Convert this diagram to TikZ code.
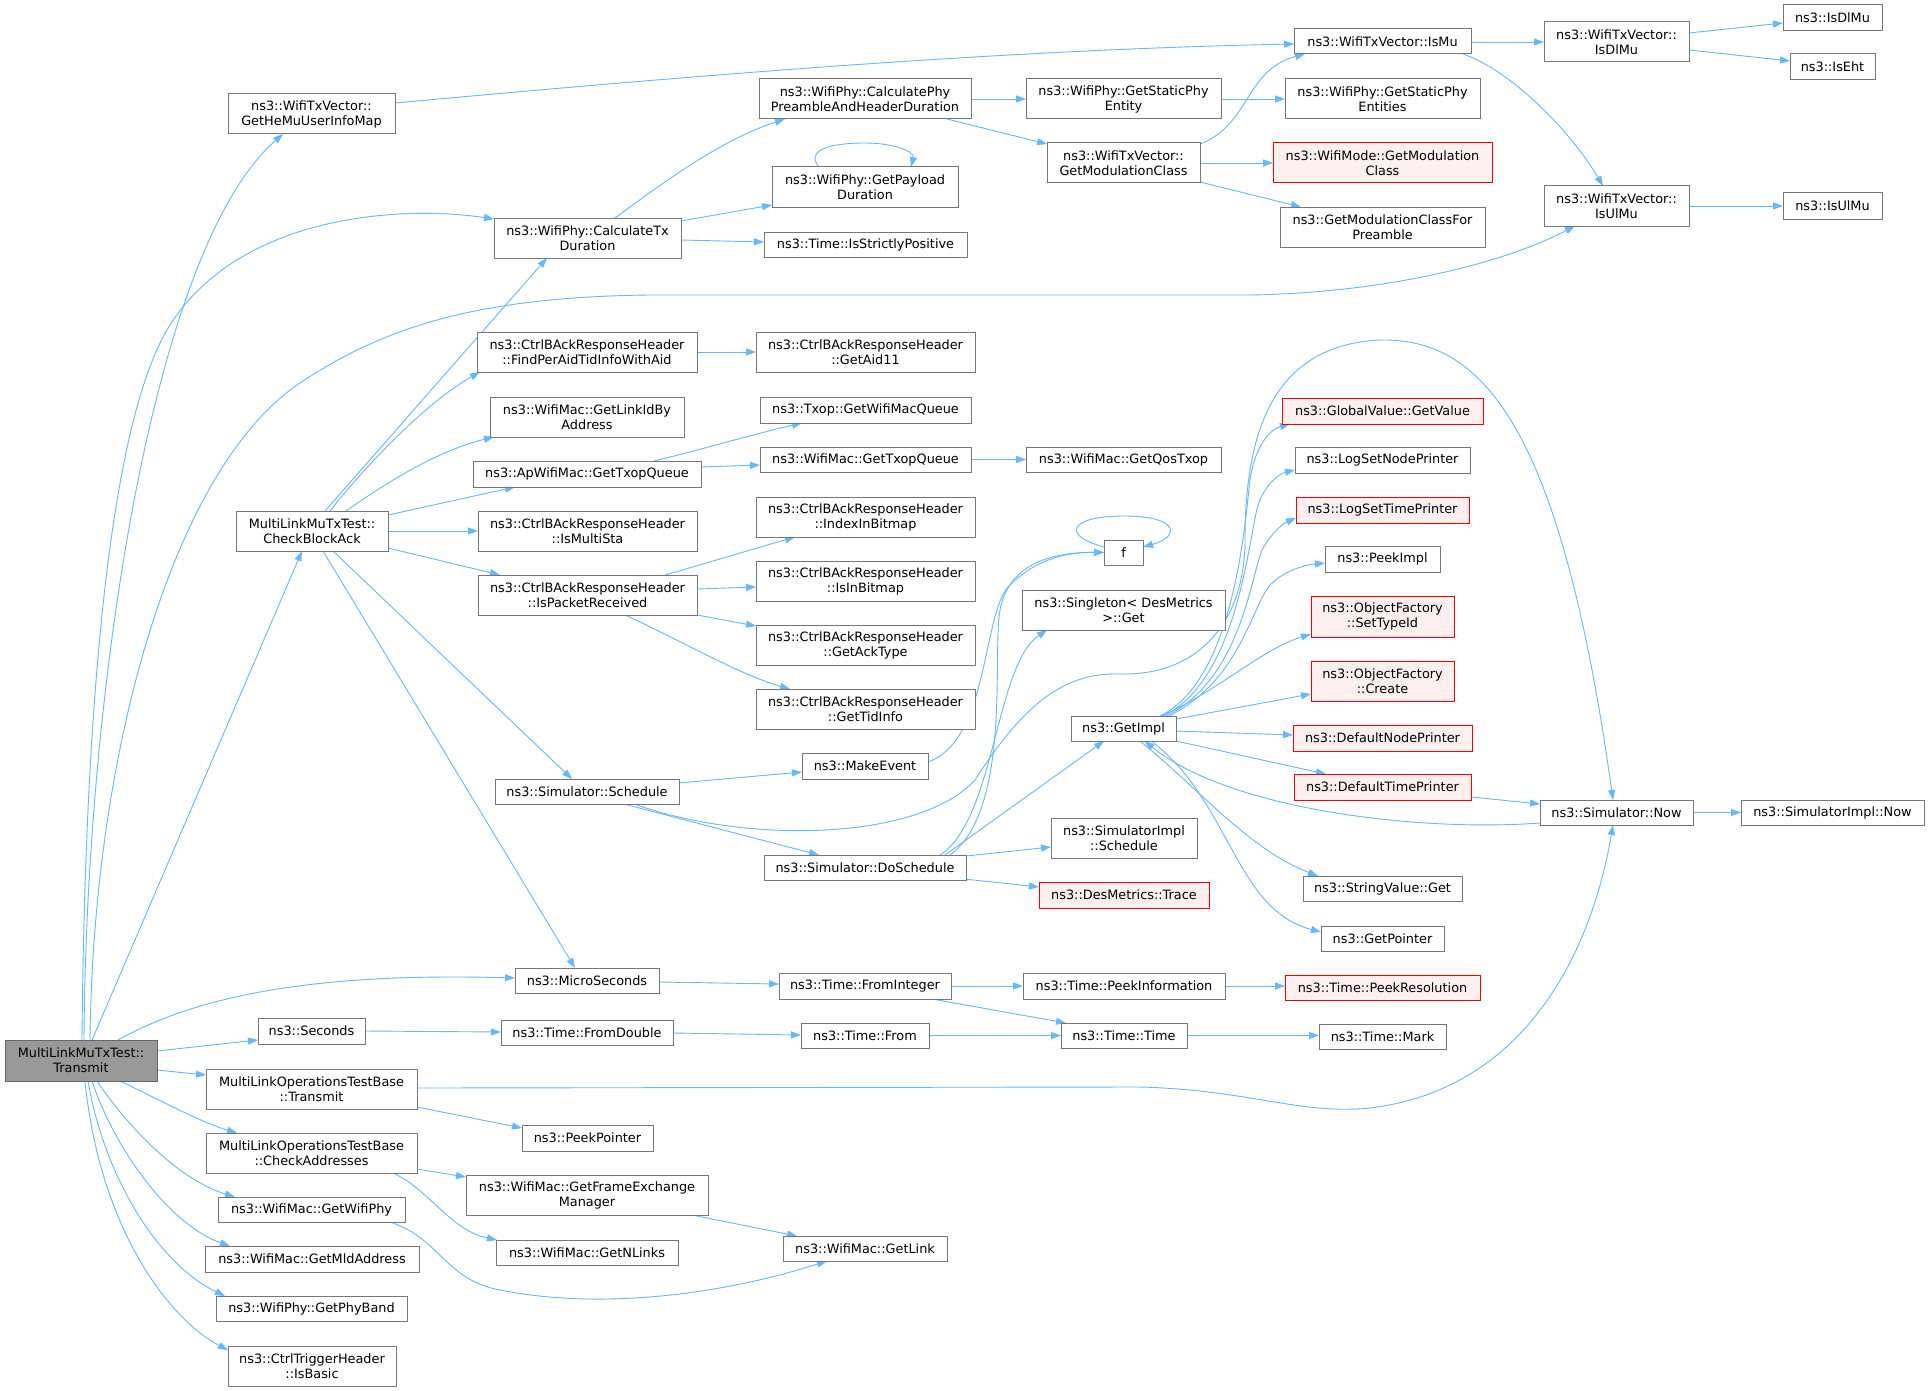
\documentclass[tikz,border=0pt]{standalone}
\usepackage{fontspec}
\setmainfont{DejaVu Sans}
\usetikzlibrary{arrows.meta}
\definecolor{edgeblue}{HTML}{63B8FF}
\definecolor{boxgray}{HTML}{777777}
\definecolor{boxred}{HTML}{FF0000}
\definecolor{redfill}{HTML}{FFF0F0}
\definecolor{rootfill}{HTML}{999999}
\definecolor{rootborder}{HTML}{666666}
\newcommand{\dxfont}{\fontsize{12.85pt}{15pt}\selectfont}
\pgfdeclarelayer{edges}
\pgfsetlayers{edges,main}
\tikzset{
  nb/.style={draw=boxgray, fill=white, line width=1pt, inner sep=0pt, align=center, font=\dxfont, text=black},
  rb/.style={nb, draw=boxred, fill=redfill},
  rootb/.style={nb, draw=rootborder, fill=rootfill},
  e/.style={draw=edgeblue, line width=0.9pt, -{Triangle[length=10pt,width=7pt]}},
}
\newcommand{\bx}[6][nb]{\node[#1, minimum width=#4pt, minimum height=#5pt] (#2) at (#3) {#6};}
\begin{document}
\begin{tikzpicture}[x=1pt,y=-1pt]
\useasboundingbox (0,0) rectangle (1929,1391);
% nodes
\bx[rootb]{root}{81,1060.5}{152}{41}{MultiLinkMuTxTest::\\Transmit}
\bx{hemu}{311.5,114}{167}{40}{ns3::WifiTxVector::\\GetHeMuUserInfoMap}
\bx{calctx}{587.5,238}{187}{40}{ns3::WifiPhy::CalculateTx\\Duration}
\bx{preamble}{865,99}{212}{40}{ns3::WifiPhy::CalculatePhy\\PreambleAndHeaderDuration}
\bx{payload}{865,187}{186}{40}{ns3::WifiPhy::GetPayload\\Duration}
\bx{strict}{865.5,244.5}{203}{25}{ns3::Time::IsStrictlyPositive}
\bx{ismu}{1382.5,41.5}{177}{25}{ns3::WifiTxVector::IsMu}
\bx{staticent}{1123.5,99}{195}{40}{ns3::WifiPhy::GetStaticPhy\\Entity}
\bx{staticents}{1382.5,99}{195}{40}{ns3::WifiPhy::GetStaticPhy\\Entities}
\bx{modclass}{1123.5,163}{153}{40}{ns3::WifiTxVector::\\GetModulationClass}
\bx[rb]{wmodclass}{1382.5,163}{219}{40}{ns3::WifiMode::GetModulation\\Class}
\bx{modpre}{1382.5,227}{205}{40}{ns3::GetModulationClassFor\\Preamble}
\bx{isdlmuv}{1616.5,42}{145}{40}{ns3::WifiTxVector::\\IsDlMu}
\bx{isdlmu}{1832.5,18}{99}{26}{ns3::IsDlMu}
\bx{iseht}{1832.5,67}{85}{26}{ns3::IsEht}
\bx{isulmuv}{1616.5,206}{145}{40}{ns3::WifiTxVector::\\IsUlMu}
\bx{isulmu}{1832.5,206}{99}{26}{ns3::IsUlMu}
\bx{findper}{587,352}{220}{40}{ns3::CtrlBAckResponseHeader\\::FindPerAidTidInfoWithAid}
\bx{aid11}{865.5,352}{219}{40}{ns3::CtrlBAckResponseHeader\\::GetAid11}
\bx{linkid}{587,417}{194}{40}{ns3::WifiMac::GetLinkIdBy\\Address}
\bx{txopq}{865.5,410}{211}{26}{ns3::Txop::GetWifiMacQueue}
\bx{wmtxopq}{865.5,459.5}{211}{25}{ns3::WifiMac::GetTxopQueue}
\bx{aptxopq}{587,474}{228}{26}{ns3::ApWifiMac::GetTxopQueue}
\bx{qostxop}{1123.5,459.5}{195}{25}{ns3::WifiMac::GetQosTxop}
\bx[rb]{globalv}{1382.5,411}{201}{26}{ns3::GlobalValue::GetValue}
\bx{lognode}{1382.5,460}{175}{26}{ns3::LogSetNodePrinter}
\bx{checkba}{312,531}{152}{40}{MultiLinkMuTxTest::\\CheckBlockAck}
\bx{multista}{587.5,531}{219}{40}{ns3::CtrlBAckResponseHeader\\::IsMultiSta}
\bx{pktrecv}{587.5,595}{219}{40}{ns3::CtrlBAckResponseHeader\\::IsPacketReceived}
\bx{indexbm}{865.5,517}{219}{40}{ns3::CtrlBAckResponseHeader\\::IndexInBitmap}
\bx{isinbm}{865.5,581}{219}{40}{ns3::CtrlBAckResponseHeader\\::IsInBitmap}
\bx{acktype}{865.5,645}{219}{40}{ns3::CtrlBAckResponseHeader\\::GetAckType}
\bx{tidinfo}{865.5,709}{219}{40}{ns3::CtrlBAckResponseHeader\\::GetTidInfo}
\bx{makeev}{865,766}{126}{26}{ns3::MakeEvent}
\bx{sched}{587,791.5}{184}{25}{ns3::Simulator::Schedule}
\bx{dosched}{865,867.5}{202}{25}{ns3::Simulator::DoSchedule}
\bx{f}{1123.5,552.5}{39}{25}{f}
\bx{singleton}{1123.5,610}{203}{40}{ns3::Singleton< DesMetrics\\>::Get}
\bx{getimpl}{1123.5,728.5}{105}{25}{ns3::GetImpl}
\bx{simimplsched}{1124,838}{146}{40}{ns3::SimulatorImpl\\::Schedule}
\bx[rb]{trace}{1124,895}{170}{26}{ns3::DesMetrics::Trace}
\bx[rb]{logtime}{1382.5,510}{173}{26}{ns3::LogSetTimePrinter}
\bx{peekimpl}{1382.5,559}{115}{26}{ns3::PeekImpl}
\bx[rb]{settype}{1382.5,616.5}{143}{41}{ns3::ObjectFactory\\::SetTypeId}
\bx[rb]{create}{1382.5,681}{143}{40}{ns3::ObjectFactory\\::Create}
\bx[rb]{defnode}{1382.5,738}{179}{26}{ns3::DefaultNodePrinter}
\bx[rb]{deftime}{1382.5,787}{177}{26}{ns3::DefaultTimePrinter}
\bx{strval}{1382.5,888.5}{159}{25}{ns3::StringValue::Get}
\bx{getptr}{1382.5,938.5}{123}{25}{ns3::GetPointer}
\bx{now}{1616.5,812.5}{153}{25}{ns3::Simulator::Now}
\bx{implnow}{1832.5,812.5}{183}{25}{ns3::SimulatorImpl::Now}
\bx{micro}{587,980.5}{144}{25}{ns3::MicroSeconds}
\bx{fromint}{865,986}{172}{26}{ns3::Time::FromInteger}
\bx{fromdbl}{587,1032.5}{172}{25}{ns3::Time::FromDouble}
\bx{from}{865,1035.5}{128}{25}{ns3::Time::From}
\bx{peekinfo}{1124,986}{202}{26}{ns3::Time::PeekInformation}
\bx[rb]{peekres}{1382.5,987.5}{195}{25}{ns3::Time::PeekResolution}
\bx{ttime}{1124,1035.5}{126}{25}{ns3::Time::Time}
\bx{mark}{1382.5,1036.5}{127}{25}{ns3::Time::Mark}
\bx{seconds}{311.5,1031}{107}{26}{ns3::Seconds}
\bx{mltx}{311.5,1089}{211}{40}{MultiLinkOperationsTestBase\\::Transmit}
\bx{peekptr}{587.5,1138}{131}{26}{ns3::PeekPointer}
\bx{checkaddr}{311.5,1153}{211}{40}{MultiLinkOperationsTestBase\\::CheckAddresses}
\bx{frameex}{587,1195}{242}{40}{ns3::WifiMac::GetFrameExchange\\Manager}
\bx{wifiphy}{311.5,1209.5}{187}{25}{ns3::WifiMac::GetWifiPhy}
\bx{nlinks}{587,1252.5}{182}{25}{ns3::WifiMac::GetNLinks}
\bx{getlink}{865,1248.5}{164}{25}{ns3::WifiMac::GetLink}
\bx{mld}{312,1259}{214}{26}{ns3::WifiMac::GetMldAddress}
\bx{phyband}{311.5,1308.5}{191}{25}{ns3::WifiPhy::GetPhyBand}
\bx{isbasic}{312,1366}{168}{40}{ns3::CtrlTriggerHeader\\::IsBasic}
% edges
\begin{pgfonlayer}{edges}
\fill[white] (0,0) rectangle (1929,1391);
% root
\draw[e] ([shift={(3,-20.5)}]root.center) .. controls (86,700) and (150,250) .. ([shift={(-28.5,20)}]hemu.center);
\draw[e] ([shift={(1,-20.5)}]root.center) .. controls (85,700) and (110,420) .. (170,325) .. controls (240,215) and (400,205) .. ([shift={(-93.5,-19)}]calctx.center);
\draw[e] ([shift={(9,-20.5)}]root.center) .. controls (93,760) and (170,470) .. (300,383) .. controls (380,330) and (470,297) .. (650,295) -- (1250,295) .. controls (1380,293) and (1500,265) .. ([shift={(-41.5,20)}]isulmuv.center);
\draw[e] ([shift={(11,-20.5)}]root.center) -- ([shift={(-10,20)}]checkba.center);
\draw[e] ([shift={(37,-20.5)}]root.center) .. controls (190,1000) and (300,972) .. ([shift={(-72,-2.5)}]micro.center);
\draw[e] ([shift={(76,-9.5)}]root.center) -- ([shift={(-53.5,9)}]seconds.center);
\draw[e] ([shift={(76,9.5)}]root.center) -- ([shift={(-105.5,-14)}]mltx.center);
\draw[e] ([shift={(39,20.5)}]root.center) .. controls (160,1100) and (200,1122) .. ([shift={(-74.5,-20)}]checkaddr.center);
\draw[e] ([shift={(16,20.5)}]root.center) .. controls (130,1130) and (180,1180) .. ([shift={(-76.5,-12.5)}]wifiphy.center);
\draw[e] ([shift={(11,20.5)}]root.center) .. controls (115,1150) and (170,1225) .. ([shift={(-82,-13)}]mld.center);
\draw[e] ([shift={(7,20.5)}]root.center) .. controls (105,1180) and (160,1265) .. ([shift={(-86.5,-12.5)}]phyband.center);
\draw[e] ([shift={(4,20.5)}]root.center) .. controls (100,1230) and (170,1320) .. ([shift={(-84,-16)}]isbasic.center);
% top area
\draw[e] ([shift={(83.5,-11)}]hemu.center) .. controls (700,75) and (1000,50) .. ([shift={(-88.5,2.5)}]ismu.center);
\draw[e] ([shift={(27.5,-20)}]calctx.center) .. controls (660,185) and (720,140) .. ([shift={(-80,20)}]preamble.center);
\draw[e] ([shift={(93.5,-17)}]calctx.center) -- ([shift={(-93,18)}]payload.center);
\draw[e] ([shift={(93.5,2)}]calctx.center) -- ([shift={(-101.5,-2.5)}]strict.center);
\draw[e] ([shift={(-46,-20)}]payload.center) .. controls (805,150) and (830,143) .. (865,143) .. controls (895,143) and (915,152) .. ([shift={(46,-20)}]payload.center);
\draw[e] ([shift={(106,0)}]preamble.center) -- ([shift={(-97.5,0)}]staticent.center);
\draw[e] ([shift={(82,20)}]preamble.center) -- ([shift={(-76.5,-19)}]modclass.center);
\draw[e] ([shift={(97.5,0)}]staticent.center) -- ([shift={(-97.5,0)}]staticents.center);
\draw[e] ([shift={(76.5,-19)}]modclass.center) .. controls (1250,125) and (1245,70) .. ([shift={(-77.5,12.5)}]ismu.center);
\draw[e] ([shift={(76.5,0)}]modclass.center) -- ([shift={(-109.5,0)}]wmodclass.center);
\draw[e] ([shift={(76.5,19)}]modclass.center) -- ([shift={(-81.5,-20)}]modpre.center);
\draw[e] ([shift={(88.5,0.5)}]ismu.center) -- ([shift={(-72.5,0)}]isdlmuv.center);
\draw[e] ([shift={(80.5,12.5)}]ismu.center) .. controls (1510,70) and (1570,130) .. ([shift={(-13.5,-20)}]isulmuv.center);
\draw[e] ([shift={(72.5,-9)}]isdlmuv.center) -- ([shift={(-49.5,5)}]isdlmu.center);
\draw[e] ([shift={(72.5,8)}]isdlmuv.center) -- ([shift={(-42.5,-6)}]iseht.center);
\draw[e] ([shift={(72.5,0)}]isulmuv.center) -- ([shift={(-49.5,0)}]isulmu.center);
% CheckBlockAck
\draw[e] ([shift={(13,-20)}]checkba.center) -- ([shift={(-40.5,20)}]calctx.center);
\draw[e] ([shift={(18,-20)}]checkba.center) .. controls (370,460) and (430,400) .. ([shift={(-107,20)}]findper.center);
\draw[e] ([shift={(34,-20)}]checkba.center) .. controls (390,480) and (440,450) .. ([shift={(-93,20)}]linkid.center);
\draw[e] ([shift={(76,-16)}]checkba.center) -- ([shift={(-72,13)}]aptxopq.center);
\draw[e] ([shift={(76,0)}]checkba.center) -- ([shift={(-109.5,0)}]multista.center);
\draw[e] ([shift={(76,17)}]checkba.center) -- ([shift={(-87.5,-20)}]pktrecv.center);
\draw[e] ([shift={(21,20)}]checkba.center) -- ([shift={(-15,-12.5)}]sched.center);
\draw[e] ([shift={(11,20)}]checkba.center) -- ([shift={(-12,-12.5)}]micro.center);
\draw[e] ([shift={(110,0)}]findper.center) -- ([shift={(-109.5,0)}]aid11.center);
\draw[e] ([shift={(67,-13)}]aptxopq.center) .. controls (700,450) and (750,435) .. ([shift={(-63.5,13)}]txopq.center);
\draw[e] ([shift={(114,-7)}]aptxopq.center) -- ([shift={(-105.5,5.5)}]wmtxopq.center);
\draw[e] ([shift={(105.5,0)}]wmtxopq.center) -- ([shift={(-97.5,0)}]qostxop.center);
\draw[e] ([shift={(77.5,-20)}]pktrecv.center) .. controls (700,565) and (750,550) .. ([shift={(-70.5,20)}]indexbm.center);
\draw[e] ([shift={(109.5,-6)}]pktrecv.center) -- ([shift={(-109.5,6)}]isinbm.center);
\draw[e] ([shift={(109.5,20)}]pktrecv.center) -- ([shift={(-109.5,-19)}]acktype.center);
\draw[e] ([shift={(37.5,20)}]pktrecv.center) .. controls (680,640) and (740,675) .. ([shift={(-75.5,-20)}]tidinfo.center);
% Schedule
\draw[e] ([shift={(92,-8.5)}]sched.center) -- ([shift={(-63,6)}]makeev.center);
\draw[e] ([shift={(37,12.5)}]sched.center) -- ([shift={(-46,-12.5)}]dosched.center);
\draw[e] ([shift={(47,12.5)}]sched.center) .. controls (750,845) and (920,840) .. (975,780) .. controls (1020,710) and (1060,672) .. (1120,674) .. controls (1200,676) and (1245,620) .. (1245,540) .. controls (1245,420) and (1280,345) .. (1380,340) .. controls (1480,338) and (1560,420) .. ([shift={(-3.5,-12.5)}]now.center);
\draw[e] ([shift={(80,-12.5)}]dosched.center) -- ([shift={(-19.5,12.5)}]getimpl.center);
\draw[e] ([shift={(101,-11.5)}]dosched.center) -- ([shift={(-73,9)}]simimplsched.center);
\draw[e] ([shift={(99,11.5)}]dosched.center) -- ([shift={(-85,-8)}]trace.center);
\draw[e] ([shift={(75,-12.5)}]dosched.center) .. controls (995,820) and (995,665) .. ([shift={(-76.5,20)}]singleton.center);
\draw[e] ([shift={(85,-12.5)}]dosched.center) .. controls (1012,810) and (992,650) .. (1000,610) .. controls (1008,565) and (1050,552) .. ([shift={(-19.5,0)}]f.center);
\draw[e] ([shift={(63,-4)}]makeev.center) .. controls (990,740) and (982,610) .. (1010,585) .. controls (1035,560) and (1065,552) .. ([shift={(-19.5,0)}]f.center);
\draw[e] ([shift={(-19.5,-5.5)}]f.center) .. controls (1060,535) and (1070,516) .. (1124,516) .. controls (1180,516) and (1180,537) .. ([shift={(19.5,-5.5)}]f.center);
% GetImpl
\draw[e] ([shift={(36.5,-12.5)}]getimpl.center) .. controls (1235,680) and (1245,520) .. (1250,480) .. controls (1254,450) and (1268,430) .. ([shift={(-92.5,13)}]globalv.center);
\draw[e] ([shift={(39.5,-12.5)}]getimpl.center) .. controls (1238,680) and (1248,540) .. (1258,505) .. controls (1265,485) and (1278,474) .. ([shift={(-87.5,10)}]lognode.center);
\draw[e] ([shift={(42.5,-12.5)}]getimpl.center) .. controls (1240,680) and (1250,580) .. (1262,550) .. controls (1270,535) and (1282,524) .. ([shift={(-86.5,8)}]logtime.center);
\draw[e] ([shift={(45.5,-12.5)}]getimpl.center) .. controls (1240,680) and (1250,610) .. (1270,585) .. controls (1285,570) and (1305,565) .. ([shift={(-57.5,4)}]peekimpl.center);
\draw[e] ([shift={(37.5,-12.5)}]getimpl.center) .. controls (1220,690) and (1260,650) .. ([shift={(-71.5,17.5)}]settype.center);
\draw[e] ([shift={(52.5,-9.5)}]getimpl.center) -- ([shift={(-71.5,13)}]create.center);
\draw[e] ([shift={(52.5,2.5)}]getimpl.center) -- ([shift={(-89.5,-3)}]defnode.center);
\draw[e] ([shift={(52.5,12.5)}]getimpl.center) -- ([shift={(-56.5,-13)}]deftime.center);
\draw[e] ([shift={(16.5,12.5)}]getimpl.center) .. controls (1200,790) and (1250,850) .. ([shift={(-64.5,-12.5)}]strval.center);
\draw[e] ([shift={(27.5,12.5)}]getimpl.center) .. controls (1230,800) and (1235,910) .. ([shift={(-61.5,-6.5)}]getptr.center);
\draw[e] ([shift={(-76.5,10.5)}]now.center) .. controls (1420,832) and (1230,810) .. ([shift={(21,12.5)}]getimpl.center);
\draw[e] ([shift={(88.5,10)}]deftime.center) -- ([shift={(-76.5,-8.5)}]now.center);
\draw[e] ([shift={(76.5,0)}]now.center) -- ([shift={(-91.5,0)}]implnow.center);
% bottom
\draw[e] ([shift={(105.5,-1)}]mltx.center) -- (1140,1087) .. controls (1250,1090) and (1300,1115) .. (1370,1108) .. controls (1520,1090) and (1590,960) .. ([shift={(-3.5,12.5)}]now.center);
\draw[e] ([shift={(105.5,18)}]mltx.center) -- ([shift={(-65.5,-10)}]peekptr.center);
\draw[e] ([shift={(105.5,16)}]checkaddr.center) -- ([shift={(-121,-18)}]frameex.center);
\draw[e] ([shift={(81.5,20)}]checkaddr.center) .. controls (430,1190) and (450,1230) .. ([shift={(-90,-12.5)}]nlinks.center);
\draw[e] ([shift={(78.5,12.5)}]wifiphy.center) .. controls (440,1238) and (445,1280) .. (500,1290) .. controls (600,1310) and (720,1295) .. ([shift={(-38,12.5)}]getlink.center);
\draw[e] ([shift={(105,20)}]frameex.center) -- ([shift={(-68,-12.5)}]getlink.center);
\draw[e] ([shift={(72,1.5)}]micro.center) -- ([shift={(-86,-2)}]fromint.center);
\draw[e] ([shift={(53.5,0)}]seconds.center) -- ([shift={(-86,-0.5)}]fromdbl.center);
\draw[e] ([shift={(86,0.5)}]fromdbl.center) -- ([shift={(-64,-0.5)}]from.center);
\draw[e] ([shift={(86,0)}]fromint.center) -- ([shift={(-101,0)}]peekinfo.center);
\draw[e] ([shift={(67,13)}]fromint.center) -- ([shift={(-58,-12.5)}]ttime.center);
\draw[e] ([shift={(64,0)}]from.center) -- ([shift={(-63,0)}]ttime.center);
\draw[e] ([shift={(101,0)}]peekinfo.center) -- ([shift={(-97.5,-1.5)}]peekres.center);
\draw[e] ([shift={(63,0)}]ttime.center) -- ([shift={(-63.5,-1)}]mark.center);
\end{pgfonlayer}
\end{tikzpicture}
\end{document}
